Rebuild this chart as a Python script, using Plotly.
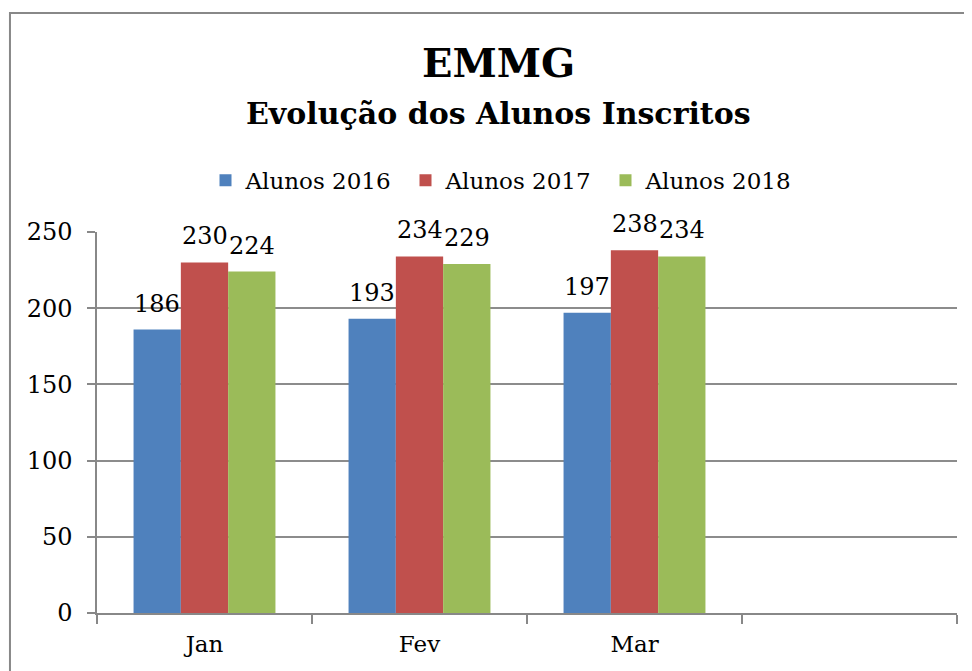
import plotly.graph_objects as go

categories = ["Jan", "Fev", "Mar", " "]
months = ["Jan", "Fev", "Mar"]
alunos_2016 = [186, 193, 197]
alunos_2017 = [230, 234, 238]
alunos_2018 = [224, 229, 234]
series_names = ["Alunos 2016", "Alunos 2017", "Alunos 2018"]
colors = ["#4F81BD", "#C0504D", "#9BBB59"]
y_ticks = [0, 50, 100, 150, 200, 250]

FONT = "DejaVu Serif"
BARGAP = 0.34
PLOT_W = 860  # plot-area width in px
bar_px = PLOT_W / len(categories) * (1 - BARGAP) / 3

fig = go.Figure()
annotations = []
for i, (name, vals, col) in enumerate(zip(series_names, [alunos_2016, alunos_2017, alunos_2018], colors)):
    fig.add_trace(go.Bar(
        x=months, y=vals, name=name, marker=dict(color=col, line=dict(width=0)),
    ))
    for m, v in zip(months, vals):
        annotations.append(dict(
            x=m, y=v, xref="x", yref="y", text=str(v), showarrow=False,
            xanchor="center", yanchor="bottom", xshift=(i - 1) * bar_px, yshift=10,
            font=dict(family=FONT, size=24, color="black"),
        ))

annotations += [
    dict(text="<b>EMMG</b>", xref="paper", yref="paper", x=0.467, y=1.4436,
         xanchor="center", yanchor="middle", showarrow=False,
         font=dict(family=FONT, size=40, color="black")),
    dict(text="<b>Evolução dos Alunos Inscritos</b>", xref="paper", yref="paper",
         x=0.467, y=1.312, xanchor="center", yanchor="middle", showarrow=False,
         font=dict(family=FONT, size=30, color="black")),
]

fig.update_layout(
    width=964, height=663,
    margin=dict(l=89, r=15, t=224, b=58),
    paper_bgcolor="white", plot_bgcolor="white",
    barmode="group", bargap=BARGAP, bargroupgap=0,
    font=dict(family=FONT, size=23, color="black"),
    showlegend=True,
    legend=dict(orientation="h", x=0.475, xanchor="center", y=1.136, yanchor="middle",
                font=dict(family=FONT, size=23), itemwidth=30, entrywidth=155,
                bgcolor="rgba(0,0,0,0)"),
    xaxis=dict(type="category", categoryorder="array", categoryarray=categories,
               range=[-0.5, 3.5], tickson="boundaries", ticks="outside", ticklen=9,
               tickcolor="#888888", tickwidth=1.5, showline=True, linecolor="#888888",
               linewidth=1.5, showgrid=False, tickfont=dict(family=FONT, size=23),
               ticklabelstandoff=10, fixedrange=True),
    yaxis=dict(range=[0, 250], tickvals=y_ticks, ticks="outside", ticklen=8,
               tickcolor="#888888", tickwidth=1.5, showgrid=True, gridcolor="#8c8c8c",
               gridwidth=1.5, showline=True, linecolor="#888888", linewidth=1.5,
               zeroline=False, tickfont=dict(family=FONT, size=24), ticklabelstandoff=10),
    annotations=annotations,
    shapes=[
        dict(type="rect", xref="paper", yref="paper", x0=-0.1012, x1=1.2, y0=-0.3, y1=1.5748,
             line=dict(color="#888888", width=2), fillcolor="rgba(0,0,0,0)", layer="below"),
    ],
)

fig.write_html("out.html")
